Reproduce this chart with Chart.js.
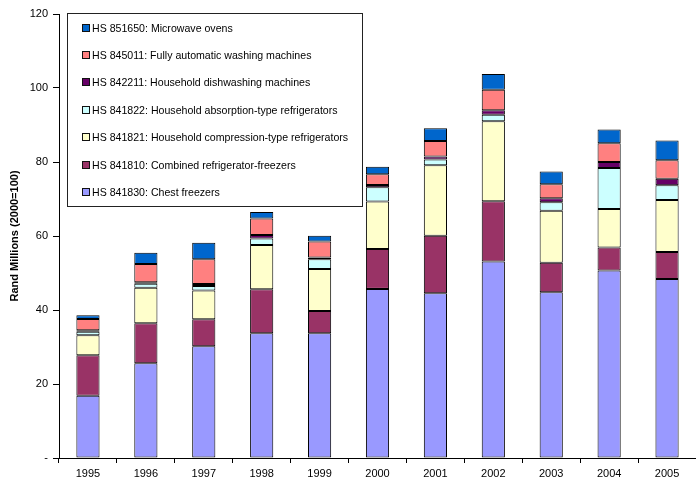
<!DOCTYPE html>
<html>
<head>
<meta charset="utf-8">
<script src="https://cdn.jsdelivr.net/npm/chart.js@4"></script>
<style>
  html, body { margin: 0; padding: 0; background: #fff; }
  #wrap { width: 696px; height: 480px; }
</style>
</head>
<body>
<div id="wrap"><canvas id="c" width="696" height="480"></canvas></div>
<script>
// Import values by HS product code, Rand millions (2000 = 100)
const years = ['1995','1996','1997','1998','1999','2000','2001','2002','2003','2004','2005'];

const chestFreezers      = [16.8, 25.6, 30.2, 33.7, 33.7, 45.7, 44.5, 53.1, 44.8, 50.7, 48.4];
const combinedFridgeFrz  = [11.0, 10.8,  7.3, 11.9,  6.0, 10.8, 15.6, 16.3,  8.0,  6.2,  7.3];
const compressionFridges = [ 5.4,  9.6,  7.8, 12.0, 11.4, 12.8, 19.0, 21.6, 14.0, 10.4, 14.0];
const absorptionFridges  = [ 0.9,  1.1,  1.2,  1.7,  2.6,  3.9,  1.6,  1.8,  2.3, 11.1,  4.0];
const dishwashers        = [ 0.4,  0.4,  0.5,  1.0,  0.5,  0.6,  0.8,  1.2,  1.1,  1.6,  1.8];
const washingMachines    = [ 3.1,  4.9,  6.7,  4.4,  4.3,  2.9,  4.2,  5.5,  3.8,  5.1,  5.0];
const microwaveOvens     = [ 1.0,  3.1,  4.5,  1.8,  1.6,  2.0,  3.4,  4.3,  3.4,  3.7,  5.3];

const yTicks = [0, 20, 40, 60, 80, 100, 120];
const yTitle = 'Rand Millions (2000=100)';

const FONT = "Arial, 'Liberation Sans', sans-serif";

const series = [
  { label: 'HS 841830: Chest freezers',                        data: chestFreezers,      color: '#9999FF' },
  { label: 'HS 841810: Combined refrigerator-freezers',        data: combinedFridgeFrz,  color: '#993366' },
  { label: 'HS 841821: Household compression-type refrigerators', data: compressionFridges, color: '#FFFFCC' },
  { label: 'HS 841822: Household absorption-type refrigerators',  data: absorptionFridges,  color: '#CCFFFF' },
  { label: 'HS 842211: Household dishwashing machines',        data: dishwashers,        color: '#660066' },
  { label: 'HS 845011: Fully automatic washing machines',      data: washingMachines,    color: '#FF8080' },
  { label: 'HS 851650: Microwave ovens',                       data: microwaveOvens,     color: '#0066CC' }
];

// Boxed legend in the upper-left of the plot, top stack segment listed first
const boxLegend = {
  id: 'boxLegend',
  afterDraw(chart) {
    const ctx = chart.ctx;
    const ds = chart.data.datasets.slice().reverse();
    ctx.save();
    ctx.fillStyle = '#ffffff';
    ctx.fillRect(67.5, 13.5, 295, 193);
    ctx.strokeStyle = '#222222';
    ctx.lineWidth = 1;
    ctx.strokeRect(67.5, 13.5, 295, 193);
    ctx.font = '10.6px ' + FONT;
    ctx.textBaseline = 'middle';
    ctx.textAlign = 'left';
    ds.forEach((d, i) => {
      const y = Math.round(28.5 + i * 27.4);
      ctx.fillStyle = d.backgroundColor;
      ctx.fillRect(82.5, y - 4.5, 7, 7);
      ctx.strokeStyle = '#111111';
      ctx.strokeRect(82.5, y - 4.5, 7, 7);
      ctx.fillStyle = '#000000';
      ctx.fillText(d.label, 92, y);
    });
    ctx.restore();
  }
};

new Chart(document.getElementById('c'), {
  type: 'bar',
  data: {
    labels: years,
    datasets: series.map(s => ({
      label: s.label,
      data: s.data,
      backgroundColor: s.color,
      borderColor: '#000000',
      borderWidth: 1,
      borderSkipped: false,
      categoryPercentage: 1.0,
      barPercentage: 0.4
    }))
  },
  options: {
    responsive: false,
    animation: false,
    layout: { padding: { top: 14, right: 0, left: 0, bottom: 0 } },
    plugins: {
      legend: { display: false },
      tooltip: { enabled: false }
    },
    scales: {
      x: {
        stacked: true,
        offset: true,
        border: { color: '#000000', width: 1 },
        grid: { offset: true, drawOnChartArea: false, tickLength: 5, color: '#000000' },
        ticks: { color: '#000000', font: { family: FONT, size: 11 }, padding: 4, maxRotation: 0 },
        afterFit(scale) { scale.height = 22; }
      },
      y: {
        stacked: true,
        min: 0,
        max: 120,
        border: { color: '#000000', width: 1 },
        grid: { drawOnChartArea: false, tickLength: 6, color: '#000000' },
        afterBuildTicks(scale) { scale.ticks = yTicks.map(v => ({ value: v })); },
        ticks: {
          color: '#000000',
          font: { family: FONT, size: 11 },
          padding: 5,
          callback: v => (v === 0 ? '-' : String(v))
        },
        title: {
          display: true,
          text: yTitle,
          color: '#000000',
          font: { family: FONT, size: 11, weight: 'bold' },
          padding: { top: 8, bottom: 0 }
        },
        afterFit(scale) { scale.width = 59; }
      }
    }
  },
  plugins: [boxLegend]
});
</script>
</body>
</html>
